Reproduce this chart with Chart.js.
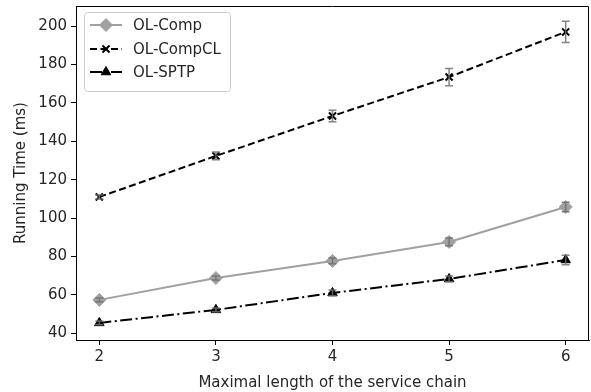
<!DOCTYPE html>
<html>
<head>
<meta charset="utf-8">
<script src="https://cdn.jsdelivr.net/npm/chart.js@4.4.0/dist/chart.umd.min.js"></script>
<style>
  html, body { margin: 0; padding: 0; background: #fff; }
  #wrap { width: 591px; height: 392px; }
</style>
</head>
<body>
<div id="wrap"><canvas id="chart" width="591" height="392"></canvas></div>
<script>
const chainLengths = [2, 3, 4, 5, 6];
const olComp = [57.4, 68.8, 77.7, 87.6, 105.8];
const olCompErr = [1, 1, 1.5, 2, 2.5];
const olCompCL = [111, 132.4, 153.2, 173.5, 197];
const olCompCLErr = [1, 2, 3, 4.5, 5.5];
const olSPTP = [45.4, 52.2, 61, 68.3, 78.2];
const olSPTPErr = [1, 1, 1.5, 1.5, 2.5];
const yTicks = [40, 60, 80, 100, 120, 140, 160, 180, 200];

const FONT = 'DejaVu Sans';
const TEXT = '#262626';

const toPoints = (vals) => vals.map((v, i) => ({ x: chainLengths[i], y: v }));

// error bars drawn through the scales
const errorBars = {
    id: 'errorBars',
    afterDatasetsDraw(chart) {
        const { ctx, scales: { x, y } } = chart;
        ctx.save();
        ctx.strokeStyle = 'rgba(110,110,110,0.85)';
        ctx.lineWidth = 1.5;
        chart.data.datasets.forEach(ds => {
            if (!ds.errors) return;
            ds.data.forEach((p, i) => {
                const e = ds.errors[i];
                const px = x.getPixelForValue(p.x);
                const y1 = y.getPixelForValue(p.y - e);
                const y2 = y.getPixelForValue(p.y + e);
                ctx.beginPath();
                ctx.moveTo(px, y1); ctx.lineTo(px, y2);
                ctx.moveTo(px - 4, y1); ctx.lineTo(px + 4, y1);
                ctx.moveTo(px - 4, y2); ctx.lineTo(px + 4, y2);
                ctx.stroke();
            });
        });
        ctx.restore();
    }
};

// full box around the plot + matplotlib style legend
const frameAndLegend = {
    id: 'frameAndLegend',
    afterDraw(chart) {
        const { ctx, chartArea: a } = chart;
        ctx.save();
        ctx.strokeStyle = '#000';
        ctx.lineWidth = 1;
        ctx.beginPath();
        ctx.moveTo(Math.round(a.left) + 0.5, Math.round(a.top) + 0.5);
        ctx.lineTo(Math.round(a.right) - 0.5, Math.round(a.top) + 0.5);
        ctx.lineTo(Math.round(a.right) - 0.5, Math.round(a.bottom) + 0.5);
        ctx.stroke();

        // legend box
        const bx = 84.5, by = 12.5, bw = 146, bh = 79, r = 3;
        ctx.beginPath();
        ctx.moveTo(bx + r, by);
        ctx.arcTo(bx + bw, by, bx + bw, by + bh, r);
        ctx.arcTo(bx + bw, by + bh, bx, by + bh, r);
        ctx.arcTo(bx, by + bh, bx, by, r);
        ctx.arcTo(bx, by, bx + bw, by, r);
        ctx.closePath();
        ctx.fillStyle = 'rgba(255,255,255,0.8)';
        ctx.fill();
        ctx.strokeStyle = '#cccccc';
        ctx.stroke();

        const rows = [25, 49, 72];
        chart.data.datasets.forEach((ds, i) => {
            const ly = rows[i];
            ctx.save();
            ctx.strokeStyle = ds.borderColor;
            ctx.lineWidth = ds.borderWidth;
            ctx.setLineDash(ds.borderDash || []);
            ctx.beginPath();
            ctx.moveTo(90, ly); ctx.lineTo(122, ly);
            ctx.stroke();
            ctx.setLineDash([]);
            ctx.fillStyle = ds.pointBackgroundColor;
            ctx.strokeStyle = ds.pointBorderColor;
            ctx.lineWidth = ds.pointBorderWidth;
            Chart.helpers.drawPoint(ctx, {
                pointStyle: ds.pointStyle,
                radius: ds.pointRadius,
                borderWidth: ds.pointBorderWidth
            }, 106, ly);
            ctx.restore();
            ctx.fillStyle = TEXT;
            ctx.font = '15px "' + FONT + '"';
            ctx.textBaseline = 'middle';
            ctx.fillText(ds.label, 133, ly + 1);
        });
        ctx.restore();
    }
};

new Chart(document.getElementById('chart'), {
    type: 'line',
    data: {
        datasets: [
            {
                label: 'OL-Comp',
                data: toPoints(olComp),
                errors: olCompErr,
                borderColor: '#a0a0a0',
                backgroundColor: '#a0a0a0',
                borderWidth: 2,
                pointStyle: 'rectRot',
                pointRadius: 6.5,
                pointBorderWidth: 1,
                pointBackgroundColor: '#a0a0a0',
                pointBorderColor: '#a0a0a0'
            },
            {
                label: 'OL-CompCL',
                data: toPoints(olCompCL),
                errors: olCompCLErr,
                borderColor: '#000000',
                backgroundColor: '#000000',
                borderWidth: 2,
                borderDash: [7, 3.5],
                pointStyle: 'crossRot',
                pointRadius: 5,
                pointBorderWidth: 2,
                pointBackgroundColor: '#000000',
                pointBorderColor: '#000000'
            },
            {
                label: 'OL-SPTP',
                data: toPoints(olSPTP),
                errors: olSPTPErr,
                borderColor: '#000000',
                backgroundColor: '#000000',
                borderWidth: 2,
                borderDash: [12, 3.5, 2, 3.5],
                pointStyle: 'triangle',
                pointRadius: 5.5,
                pointBorderWidth: 1,
                pointBackgroundColor: '#000000',
                pointBorderColor: '#000000'
            }
        ]
    },
    options: {
        responsive: false,
        animation: false,
        layout: { autoPadding: false, padding: { top: 6, right: 2, left: 0, bottom: 0 } },
        plugins: {
            legend: { display: false },
            tooltip: { enabled: false }
        },
        scales: {
            x: {
                type: 'linear',
                min: 1.8,
                max: 6.2,
                afterBuildTicks: (s) => { s.ticks = chainLengths.map(v => ({ value: v })); },
                afterFit: (s) => { s.height = 52; s.paddingLeft = 0; s.paddingRight = 0; },
                grid: { drawOnChartArea: false, drawTicks: true, tickLength: 5, color: '#000' },
                border: { color: '#000', width: 1 },
                ticks: { color: TEXT, font: { family: FONT, size: 15 }, padding: 3, maxRotation: 0 },
                title: {
                    display: true,
                    text: 'Maximal length of the service chain',
                    color: TEXT,
                    font: { family: FONT, size: 15 },
                    padding: { top: 4, bottom: 0 }
                }
            },
            y: {
                min: 36.5,
                max: 210.5,
                afterBuildTicks: (s) => { s.ticks = yTicks.map(v => ({ value: v })); },
                afterFit: (s) => { s.width = 76; s.paddingTop = 0; s.paddingBottom = 0; },
                grid: { drawOnChartArea: false, drawTicks: true, tickLength: 5, color: '#000' },
                border: { color: '#000', width: 1 },
                ticks: { color: TEXT, font: { family: FONT, size: 15 }, padding: 4 },
                title: {
                    display: true,
                    text: 'Running Time (ms)',
                    color: TEXT,
                    font: { family: FONT, size: 15 },
                    padding: { top: 12, bottom: 4 }
                }
            }
        }
    },
    plugins: [errorBars, frameAndLegend]
});
</script>
</body>
</html>
